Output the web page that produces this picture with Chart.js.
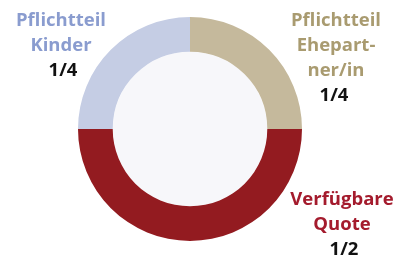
<!DOCTYPE html>
<html>
<head>
<meta charset="utf-8">
<script src="https://cdn.jsdelivr.net/npm/chart.js@4/dist/chart.umd.min.js"></script>
<style>
  html, body { margin: 0; padding: 0; background: #ffffff; }
  #wrap { width: 399px; height: 255px; }
</style>
</head>
<body>
<div id="wrap"><canvas id="myCanvas" width="399" height="255"></canvas></div>
<script>
// Data (clockwise from 12 o'clock)
const categories = ['Pflichtteil Ehepartner/in', 'Verfügbare Quote', 'Pflichtteil Kinder'];
const shares = [1, 2, 1];
const shareLabels = ['1/4', '1/2', '1/4'];
const labelLines = [['Pflichtteil', 'Ehepart-', 'ner/in'], ['Verfügbare', 'Quote'], ['Pflichtteil', 'Kinder']];

const sliceColors = ['#c5b99c', '#931b20', '#c5cde4'];
const textColors = ['#a99b70', '#a41b2d', '#8a9ccf'];
// text block anchor: centre x, first baseline y, x shift of the fraction
const labelAnchors = [[336, 26, -2], [342, 205, 2], [61, 26, 2]];

const ctx = document.getElementById('myCanvas').getContext('2d');

// fill the hole and write the outside labels
const decor = {
    id: 'decor',
    beforeDatasetsDraw(chart) {
        const arc = chart.getDatasetMeta(0).data[0];
        const c = chart.ctx;
        c.save();
        c.fillStyle = '#f7f7fa';
        c.beginPath();
        c.arc(arc.x, arc.y, arc.innerRadius, 0, Math.PI * 2);
        c.fill();
        c.restore();
    },
    afterDraw(chart) {
        const c = chart.ctx;
        c.save();
        c.textAlign = 'center';
        c.textBaseline = 'alphabetic';
        c.font = 'bold 18.5px "Open Sans"';
        labelLines.forEach((lines, i) => {
            const [x, y, dx] = labelAnchors[i];
            c.fillStyle = textColors[i];
            lines.forEach((t, j) => c.fillText(t, x, y + j * 25));
            c.fillStyle = '#111111';
            c.fillText(shareLabels[i], x + dx, y + lines.length * 25);
        });
        c.restore();
    }
};

const chart = new Chart(ctx, {
    type: 'doughnut',
    data: {
        labels: categories,
        datasets: [{
            data: shares,
            backgroundColor: sliceColors,
            borderWidth: 0,
        }],
    },
    options: {
        responsive: false,
        animation: false,
        cutout: '69%',
        layout: { padding: { top: 17, bottom: 14, left: 78, right: 97 } },
        plugins: {
            legend: { display: false },
            tooltip: { enabled: false },
        },
    },
    plugins: [decor],
});
</script>
</body>
</html>
